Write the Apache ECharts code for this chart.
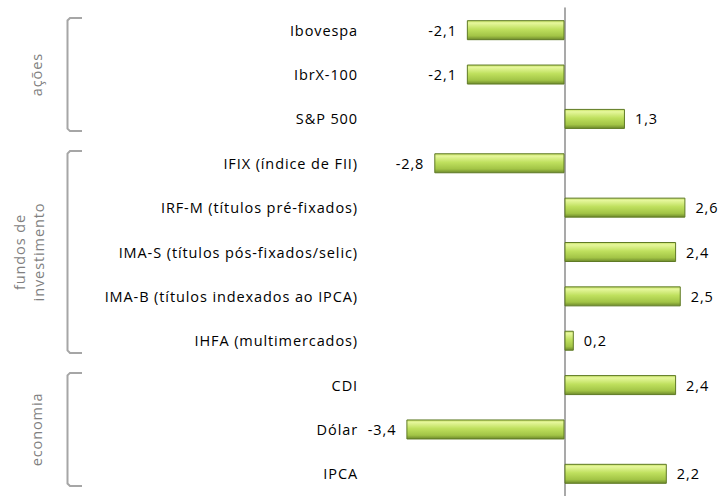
<!DOCTYPE html>
<html lang="pt">
<head>
    <meta charset="UTF-8">
    <title>Rentabilidade</title>
    <style>
        html, body {
            margin: 0;
            padding: 0;
            background: #fff;
        }

        #chart1 {
            width: 725px;
            height: 496px;
        }

        #chart1 text {
            letter-spacing: 0.9px;
        }
    </style>
</head>
<body>
<div id="chart1"></div>
<script src="https://cdn.jsdelivr.net/npm/echarts@6/dist/echarts.min.js"></script>
<script type="text/javascript">
    var categories = ['Ibovespa', 'IbrX-100', 'S&P 500', 'IFIX (índice de FII)', 'IRF-M (títulos pré-fixados)',
        'IMA-S (títulos pós-fixados/selic)', 'IMA-B (títulos indexados ao IPCA)', 'IHFA (multimercados)',
        'CDI', 'Dólar', 'IPCA'];
    var values = [-2.1, -2.1, 1.3, -2.8, 2.6, 2.4, 2.5, 0.2, 2.4, -3.4, 2.2];
    // grupos: nome e índices da primeira e última categoria
    var groupNames = ['ações', 'fundos de\ninvestimento', 'economia'];
    var groupStart = [0, 3, 8];
    var groupEnd = [2, 7, 10];

    var chart1 = echarts.init(document.getElementById('chart1'), null, {renderer: 'svg'});
    var fontFamily = '"Open Sans", "Noto Sans", sans-serif';

    var barColor = new echarts.graphic.LinearGradient(0, 0, 0, 1, [
        {offset: 0, color: '#c4df62'},
        {offset: 0.12, color: '#e6f79c'},
        {offset: 0.45, color: '#bfe05e'},
        {offset: 0.8, color: '#a2c446'},
        {offset: 1, color: '#6e8a2c'}
    ]);

    chart1.setOption({
        animation: false,
        grid: {
            left: 378.5,
            top: 8,
            width: 325.5,
            height: 489.5
        },
        xAxis: {
            type: 'value',
            min: -4,
            max: 3,
            axisLine: {show: false},
            axisTick: {show: false},
            axisLabel: {show: false},
            splitLine: {show: false}
        },
        yAxis: [{
            type: 'category',
            inverse: true,
            data: categories,
            axisLine: {onZero: true, lineStyle: {color: '#8c8c8c', width: 1.5}},
            axisTick: {length: 5, lineStyle: {color: '#a0a0a0'}},
            axisLabel: {show: false}
        }, {
            type: 'category',
            inverse: true,
            position: 'left',
            data: categories,
            axisLine: {show: false, onZero: false},
            axisTick: {show: false},
            axisLabel: {
                margin: 20.5,
                color: '#000',
                fontSize: 14.5,
                fontFamily: fontFamily
            }
        }],
        series: [{
            type: 'bar',
            yAxisIndex: 0,
            barWidth: 20,
            data: values.map(function (v) {
                return {
                    value: v,
                    label: {position: v < 0 ? 'left' : 'right'}
                };
            }),
            itemStyle: {
                color: barColor,
                borderColor: '#5f7a25',
                borderWidth: 1
            },
            label: {
                show: true,
                distance: 10,
                color: '#000',
                fontSize: 14.5,
                fontFamily: fontFamily,
                formatter: function (p) {
                    return p.value.toFixed(1).replace('.', ',');
                }
            }
        }]
    });

    // colchetes dos grupos à esquerda
    function drawGroups() {
        var band = chart1.convertToPixel({yAxisIndex: 0}, categories[1]) -
            chart1.convertToPixel({yAxisIndex: 0}, categories[0]);
        var elements = [];
        for (var i = 0; i < groupNames.length; i++) {
            var y0 = chart1.convertToPixel({yAxisIndex: 0}, categories[groupStart[i]]) - band / 2 + 10;
            var y1 = chart1.convertToPixel({yAxisIndex: 0}, categories[groupEnd[i]]) + band / 2 - 10;
            elements.push({
                type: 'polyline',
                shape: {points: [[82, y0], [70, y0], [67.5, y0 + 2.5], [67.5, y1 - 2.5], [70, y1], [82, y1]]},
                style: {stroke: '#a6a6a6', lineWidth: 2, fill: null}
            });
            elements.push({
                type: 'text',
                x: groupNames[i].indexOf('\n') >= 0 ? 29 : 36,
                y: (y0 + y1) / 2,
                rotation: Math.PI / 2,
                style: {
                    text: groupNames[i],
                    fill: '#7f7f7f',
                    font: '14.5px ' + fontFamily,
                    align: 'center',
                    verticalAlign: 'middle',
                    lineHeight: 19
                }
            });
        }
        chart1.setOption({graphic: {elements: elements}});
    }

    drawGroups();
</script>
</body>
</html>
